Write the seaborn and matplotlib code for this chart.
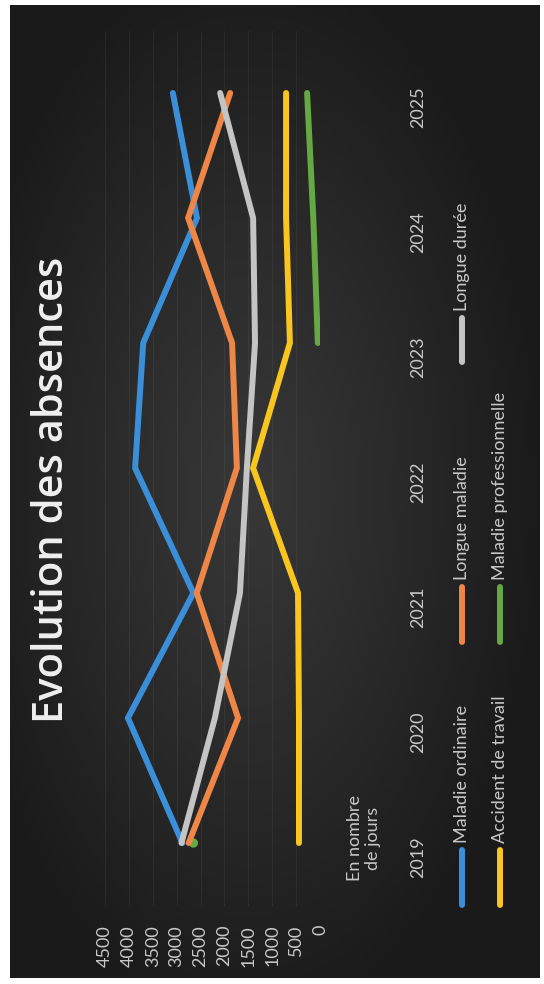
import numpy as np
import pandas as pd
import matplotlib
matplotlib.use("Agg")
import matplotlib.pyplot as plt
import seaborn as sns
from matplotlib.lines import Line2D
from matplotlib.colors import LinearSegmentedColormap

# ---------------- data ----------------
years = ["2019", "2020", "2021", "2022", "2023", "2024", "2025"]
maladie_ordinaire = [2880, 4020, 2650, 3870, 3700, 2575, 3080]
longue_maladie = [2750, 1715, 2580, 1740, 1840, 2760, 1880]
longue_duree = [2900, 2200, 1675, 1530, 1360, 1400, 2090]
accident_travail = [440, 440, 460, 1400, 630, 710, 710]
maladie_professionnelle = [2650, np.nan, np.nan, np.nan, 45, 140, 270]
value_ticks = [0, 500, 1000, 1500, 2000, 2500, 3000, 3500, 4000, 4500]

series_names = ["Maladie ordinaire", "Longue maladie", "Longue durée",
                "Accident de travail", "Maladie professionnelle"]
series_values = [maladie_ordinaire, longue_maladie, longue_duree,
                 accident_travail, maladie_professionnelle]
palette = {
    "Maladie ordinaire": "#3a8fd8",
    "Longue maladie": "#ee8647",
    "Longue durée": "#c4c4c4",
    "Accident de travail": "#f9c51f",
    "Maladie professionnelle": "#66a844",
}

rows = []
for name, vals in zip(series_names, series_values):
    seg = 0
    for i, v in enumerate(vals):
        if np.isnan(v):
            seg += 1
            continue
        rows.append(dict(series=name, pos=i, value=v, seg=f"{name}-{seg}"))
df = pd.DataFrame(rows)
counts = df.groupby("seg")["pos"].transform("count")
single = df[counts == 1]

# ---------------- figure ----------------
W, H = 544, 984
fig = plt.figure(figsize=(W / 100, H / 100), dpi=100, facecolor="white")
plt.rcParams["font.family"] = ["Lato", "DejaVu Sans"]

# dark photographed-screen background with soft vignette
bg = fig.add_axes([10 / W, 6 / H, 530 / W, 973 / H])
yy, xx = np.mgrid[0:1:300j, 0:1:160j]
r = np.sqrt(((xx - 0.45) / 0.75) ** 2 + ((yy - 0.5) / 0.75) ** 2)
cmap = LinearSegmentedColormap.from_list("bg", ["#383838", "#2a2a2a", "#1a1a1a"])
bg.imshow(r, cmap=cmap, aspect="auto", extent=[0, 1, 0, 1], vmin=0, vmax=0.75)
bg.set_axis_off()

ax = fig.add_axes([105 / W, (H - 905.5) / H, 215 / W, 875 / H])
ax.set_facecolor("none")

sns.lineplot(data=df, x="value", y="pos", hue="series", units="seg",
             estimator=None, sort=False, orient="y", palette=palette,
             hue_order=series_names, linewidth=4.3, legend=False, ax=ax,
             solid_capstyle="round", solid_joinstyle="miter")
sns.scatterplot(data=single, x="value", y="pos", hue="series", palette=palette,
                s=45, edgecolor="none", legend=False, ax=ax)

ax.set_xlim(4500, 0)
ax.set_ylim(-0.5, 6.5)
ax.set_xticks(value_ticks)
ax.set_xticklabels([str(v) for v in value_ticks], rotation=90, color="#c8c8c8",
                   fontsize=13)
ax.set_yticks(range(len(years)))
ax.set_yticklabels(years, rotation=90, color="#c8c8c8", fontsize=13)
ax.yaxis.tick_right()
ax.tick_params(axis="x", length=0, pad=14)
ax.tick_params(axis="y", length=0, pad=65)
ax.grid(axis="x", color="#ffffff", alpha=0.05, linewidth=0.8)
ax.set_axisbelow(True)
for s in ax.spines.values():
    s.set_visible(False)
ax.set_xlabel("")
ax.set_ylabel("")

# title
fig.text(52 / W, (H - 490) / H, "Evolution des absences", rotation=90,
         ha="center", va="center", color="#f0f0f0", fontsize=30,
         fontweight="semibold", family=["Open Sans", "DejaVu Sans"])

# axis annotation
fig.text(364 / W, (H - 838) / H, "En nombre\nde jours", rotation=90,
         ha="center", va="center", color="#c8c8c8", fontsize=13,
         multialignment="center", linespacing=1.1)

# legend (rotated, drawn manually)
legend_items = [
    ("Maladie ordinaire", 462, 905, 850),
    ("Longue maladie", 462, 642, 587),
    ("Longue durée", 462, 362, 318),
    ("Accident de travail", 500, 905, 850),
    ("Maladie professionnelle", 500, 642, 587),
]
for name, x, y0, y1 in legend_items:
    fig.add_artist(Line2D([x / W, x / W], [(H - y0) / H, (H - y1) / H],
                          transform=fig.transFigure, color=palette[name],
                          linewidth=4.3, solid_capstyle="round"))
    fig.text(x / W, (H - y1 + 7) / H, name, rotation=90, ha="center",
             va="bottom", color="#c8c8c8", fontsize=13)

fig.savefig("out.png", dpi=100, facecolor="white")
